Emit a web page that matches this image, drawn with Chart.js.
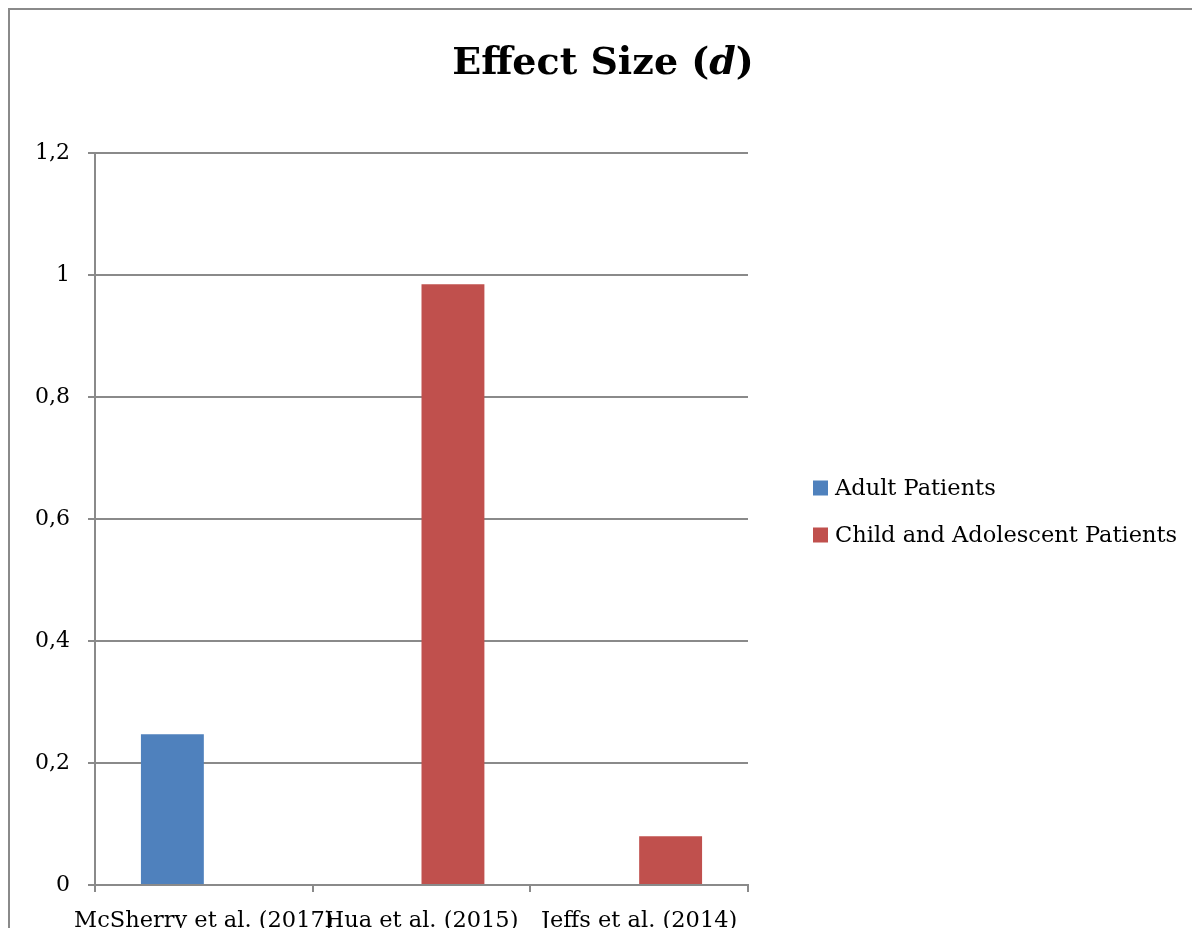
<!DOCTYPE html>
<html>
<head>
<meta charset="utf-8">
<script src="https://cdn.jsdelivr.net/npm/chart.js@4/dist/chart.umd.min.js"></script>
<style>
  html, body { margin: 0; padding: 0; background: #fff; overflow: hidden; }
  #wrap { position: relative; width: 1192px; height: 928px; overflow: hidden; }
  #frame { position: absolute; left: 8px; top: 8px; width: 1300px; height: 1100px;
           border-left: 2px solid #8a8a8a; border-top: 2px solid #8a8a8a; box-sizing: border-box; }
  #box { position: absolute; left: 0; top: 0; width: 1192px; height: 960px; }
</style>
</head>
<body>
<div id="wrap">
  <div id="frame"></div>
  <div id="box"><canvas id="c" width="1192" height="960"></canvas></div>
</div>
<script>
// Studies on the x axis
const studies = ['McSherry et al. (2017)', 'Hua et al. (2015)', 'Jeffs et al. (2014)'];
// Cohen's d per study, split by patient group (null = not reported for that group)
const adultPatients = [0.247, null, null];
const childAdolescentPatients = [null, 0.985, 0.08];
// Y axis tick labels (comma decimal separator)
const yTickLabels = ['0', '0,2', '0,4', '0,6', '0,8', '1', '1,2'];

const FONT = "'DejaVu Serif', serif";
const GRID = '#8a8a8a';

// Title with an italic "d", drawn on the canvas
const titlePlugin = {
  id: 'mixedTitle',
  afterDraw(chart) {
    const ctx = chart.ctx;
    const parts = [
      { t: 'Effect Size (', f: `bold 38px ${FONT}` },
      { t: 'd', f: `bold italic 38px ${FONT}` },
      { t: ')', f: `bold 38px ${FONT}` }
    ];
    ctx.save();
    let total = 0;
    parts.forEach(p => { ctx.font = p.f; p.w = ctx.measureText(p.t).width; total += p.w; });
    let x = 603 - total / 2;
    ctx.fillStyle = '#000';
    ctx.textBaseline = 'alphabetic';
    parts.forEach(p => { ctx.font = p.f; ctx.fillText(p.t, x, 74); x += p.w; });
    ctx.restore();
  }
};

// Series key to the right of the plot, one row per dataset
const sideLegend = {
  id: 'sideLegend',
  afterDraw(chart) {
    const ctx = chart.ctx;
    const area = chart.chartArea;
    const x = area.right + 65;
    const rowGap = 47;
    const y0 = 488;
    ctx.save();
    ctx.font = `22.5px ${FONT}`;
    ctx.textBaseline = 'middle';
    chart.data.datasets.forEach((ds, i) => {
      const y = y0 + i * rowGap;
      ctx.fillStyle = ds.backgroundColor;
      ctx.fillRect(x, y - 7.5, 15, 15);
      ctx.fillStyle = '#000';
      ctx.fillText(ds.label, x + 22, y + 1);
    });
    ctx.restore();
  }
};

new Chart(document.getElementById('c'), {
  type: 'bar',
  data: {
    labels: studies,
    datasets: [
      { label: 'Adult Patients', data: adultPatients, backgroundColor: '#4f81bd' },
      { label: 'Child and Adolescent Patients', data: childAdolescentPatients, backgroundColor: '#c0504d' }
    ]
  },
  options: {
    responsive: false,
    animation: false,
    layout: { padding: { top: 153, left: 0, right: 444, bottom: 30 } },
    datasets: { bar: { categoryPercentage: 0.578, barPercentage: 1.0 } },
    plugins: {
      title: { display: false },
      tooltip: { enabled: false },
      legend: { display: false }
    },
    scales: {
      x: {
        offset: true,
        afterFit(scale) { scale.height = 45; },
        grid: { offset: true, drawOnChartArea: false, drawTicks: true, tickLength: 7, color: GRID, lineWidth: 2 },
        border: { color: GRID, width: 2 },
        ticks: { font: { family: FONT, size: 22.5 }, color: '#000', padding: 16, maxRotation: 0, autoSkip: false }
      },
      y: {
        min: 0,
        max: 1.2,
        afterFit(scale) { scale.width = 95; },
        grid: { color: GRID, lineWidth: 2, tickLength: 7 },
        border: { color: GRID, width: 2 },
        ticks: {
          stepSize: 0.2,
          font: { family: FONT, size: 22 },
          color: '#000',
          padding: 18,
          callback: (v, i) => yTickLabels[i]
        }
      }
    }
  },
  plugins: [titlePlugin, sideLegend]
});
</script>
</body>
</html>
